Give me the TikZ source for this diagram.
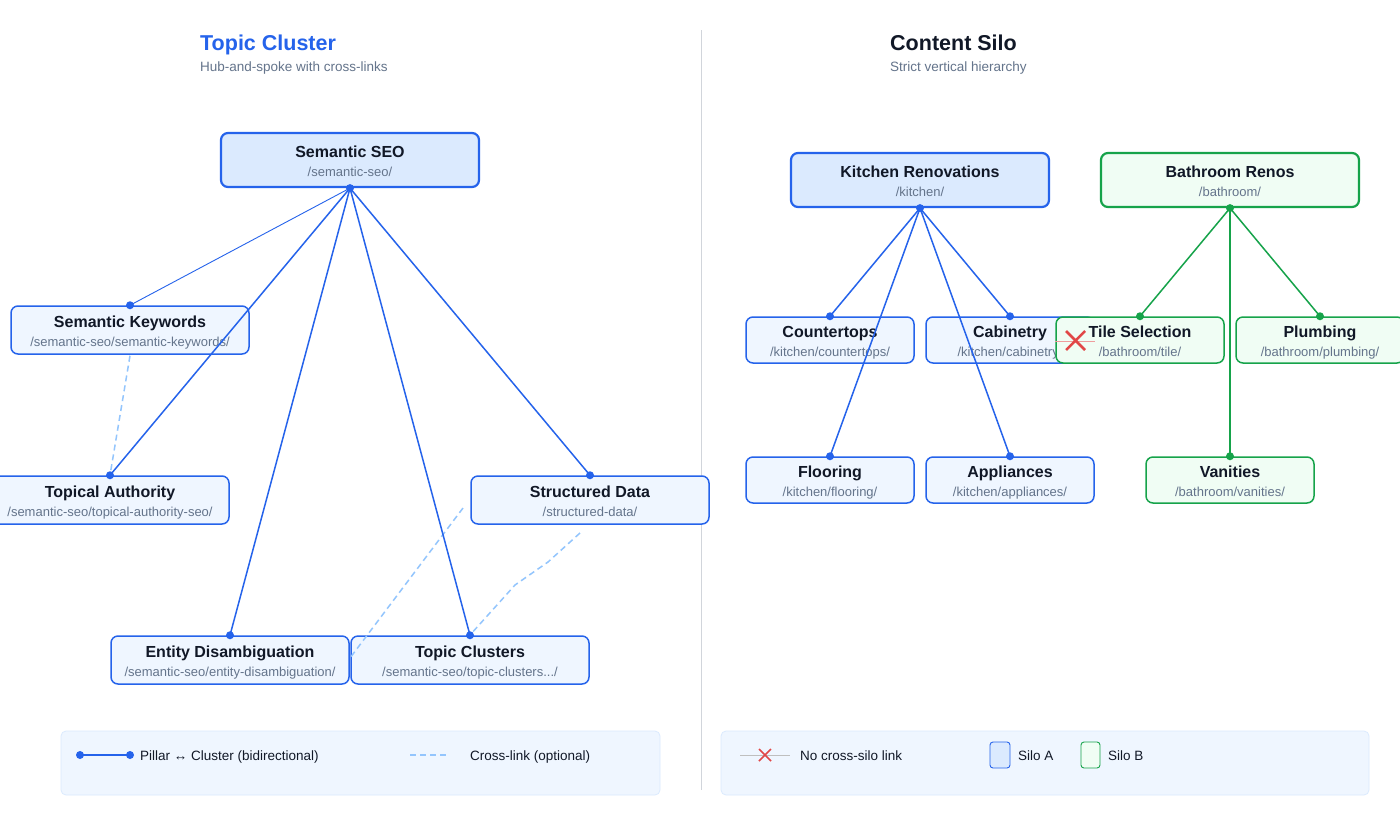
\documentclass[tikz,border=0pt]{standalone}
\usepackage{fontspec}
\setmainfont{Liberation Sans}
\definecolor{blu}{HTML}{2563EB}
\definecolor{hubf}{HTML}{DBEAFE}
\definecolor{leaff}{HTML}{EFF6FF}
\definecolor{grn}{HTML}{16A34A}
\definecolor{grnf}{HTML}{F0FDF4}
\definecolor{lblu}{HTML}{93C5FD}
\definecolor{dark}{HTML}{111827}
\definecolor{gry}{HTML}{64748B}
\definecolor{rd}{HTML}{DC2626}
\newcommand{\nt}[2]{{\setlength{\tabcolsep}{0pt}\begin{tabular}{c}\rule[-6pt]{0pt}{22pt}{\fontsize{16}{16}\selectfont\bfseries #1}\\\rule[-3pt]{0pt}{16pt}{\fontsize{13}{13}\selectfont\color{gry}#2}\end{tabular}}}
\tikzset{
  base/.style={rounded corners=7pt, align=center, text=dark, inner sep=0pt, font=\fontsize{10}{10}\selectfont},
  hub/.style={base, draw=blu, fill=hubf, line width=2.2pt, minimum width=258pt, minimum height=54pt},
  leaf/.style={base, draw=blu, fill=leaff, line width=1.5pt, minimum width=238pt, minimum height=48pt},
  sleaf/.style={leaf, minimum width=168pt, minimum height=46pt},
  ghub/.style={hub, draw=grn, fill=grnf},
  gleaf/.style={sleaf, draw=grn, fill=grnf},
  link/.style={blu, line width=1.5pt},
  glink/.style={grn, line width=1.5pt},
  cross/.style={lblu, line width=1.5pt, dash pattern=on 6pt off 4pt},
  dot/.style={circle, fill=#1, inner sep=0pt, minimum size=8pt},
  lbl/.style={anchor=base west, inner sep=0pt},
  lgt/.style={lbl, text=dark, font=\fontsize{13.5}{16}\selectfont},
}
\begin{document}
\begin{tikzpicture}[x=1pt,y=-1pt]
\useasboundingbox[fill=white] (0,0) rectangle (1400,820);
% titles
\node[lbl, text=blu, font=\fontsize{21.5}{24}\selectfont\bfseries] (t1) at (200,50) {Topic Cluster};
\node[lbl, text=gry, font=\fontsize{13.5}{16}\selectfont] (s1) at (200,71) {Hub-and-spoke with cross-links};
\node[lbl, text=dark, font=\fontsize{21.5}{24}\selectfont\bfseries] (t2) at (890,50) {Content Silo};
\node[lbl, text=gry, font=\fontsize{13.5}{16}\selectfont] (s2) at (890,71) {Strict vertical hierarchy};
\draw[color={rgb,255:red,209;green,213;blue,219}, line width=1pt] (701,30) coordinate (d1) -- (701,790) coordinate (d2);
% left nodes
\node[hub] (seo) at (350,160) {\nt{Semantic SEO}{/semantic-seo/}};
\node[leaf] (kw) at (130,330) {\nt{Semantic Keywords}{/semantic-seo/semantic-keywords/}};
\node[leaf] (ta) at (110,500) {\nt{Topical Authority}{/semantic-seo/topical-authority-seo/}};
\node[leaf] (sd) at (590,500) {\nt{Structured Data}{/structured-data/}};
\node[leaf] (ed) at (230,660) {\nt{Entity Disambiguation}{/semantic-seo/entity-disambiguation/}};
\node[leaf] (tc) at (470,660) {\nt{Topic Clusters}{/semantic-seo/topic-clusters.../}};
% cross links
\draw[cross] ([yshift=-1pt]kw.south) -- (ta.north);
\draw[cross] (463,508) coordinate (c1) -- (350,658) coordinate (c2);
\draw[cross] (580,533) coordinate (c3) -- (548,562) coordinate (c4) -- (515,585) coordinate (c5) -- (470,635) coordinate (c6);
% spokes
\draw[blu, line width=0.9pt] (seo.south) -- (kw.north);
\foreach \n in {ta,sd,ed,tc} \draw[link] (seo.south) -- (\n.north);
\foreach \n in {seo.south,kw.north,ta.north,sd.north,ed.north,tc.north} \node[dot=blu] at (\n) {};
% right nodes
\node[hub] (kit) at (920,180) {\nt{Kitchen Renovations}{/kitchen/}};
\node[ghub] (bath) at (1230,180) {\nt{Bathroom Renos}{/bathroom/}};
\node[sleaf] (ct) at (830,340) {\nt{Countertops}{/kitchen/countertops/}};
\node[sleaf] (cab) at (1010,340) {\nt{Cabinetry}{/kitchen/cabinetry/}};
\node[gleaf] (tile) at (1140,340) {\nt{Tile Selection}{/bathroom/tile/}};
\node[gleaf] (pl) at (1320,340) {\nt{Plumbing}{/bathroom/plumbing/}};
\node[sleaf] (fl) at (830,480) {\nt{Flooring}{/kitchen/flooring/}};
\node[sleaf] (ap) at (1010,480) {\nt{Appliances}{/kitchen/appliances/}};
\node[gleaf] (van) at (1230,480) {\nt{Vanities}{/bathroom/vanities/}};
\foreach \n in {ct,cab,fl,ap} \draw[link] (kit.south) -- (\n.north);
\foreach \n in {tile,pl,van} \draw[glink] (bath.south) -- (\n.north);
\foreach \n in {kit.south,ct.north,cab.north,fl.north,ap.north} \node[dot=blu] at (\n) {};
\foreach \n in {bath.south,tile.north,pl.north,van.north} \node[dot=grn] at (\n) {};
% no cross-silo marker
\draw[rd!45, line width=0.8pt] (1055,341) coordinate (x1) -- (1095,341) coordinate (x2);
\draw[rd!85, line width=2.5pt] (1066,331) coordinate (x3) -- (1085,350) coordinate (x4) (1085,331) coordinate (x5) -- (1066,350) coordinate (x6);
% legends
\node[draw={rgb,255:red,219;green,234;blue,254}, fill=leaff, rounded corners=5pt, minimum width=599pt, minimum height=64pt, line width=0.8pt] (lg1) at (360.5,763) {};
\node[draw={rgb,255:red,219;green,234;blue,254}, fill=leaff, rounded corners=5pt, minimum width=648pt, minimum height=64pt, line width=0.8pt] (lg2) at (1045,763) {};
\coordinate (la) at (80,755); \coordinate (lb) at (130,755);
\draw[link] (la) -- (lb);
\node[dot=blu] at (la) {}; \node[dot=blu] at (lb) {};
\node[lgt] (lt1) at (140,760) {Pillar ↔ Cluster (bidirectional)};
\draw[cross] (410,755) coordinate (lc) -- (447,755) coordinate (ld);
\node[lgt] (lt2) at (470,760) {Cross-link (optional)};
\draw[gray!50, line width=0.7pt] (740,755) coordinate (le) -- (790,755) coordinate (lf);
\draw[rd!85, line width=1.5pt] (759,749) coordinate (g1) -- (771,761) coordinate (g2) (771,749) coordinate (g3) -- (759,761) coordinate (g4);
\node[lgt] (lt3) at (800,760) {No cross-silo link};
\node[draw=blu, fill=hubf, rounded corners=3pt, minimum width=20pt, minimum height=26pt, inner sep=0pt, line width=0.9pt] (sa) at (1000,755) {};
\node[lgt] (lt4) at (1018,760) {Silo A};
\node[draw=grn, fill=grnf, rounded corners=3pt, minimum width=19pt, minimum height=26pt, inner sep=0pt, line width=0.9pt] (sb) at (1090.5,755) {};
\node[lgt] (lt5) at (1108,760) {Silo B};
\end{tikzpicture}
\end{document}
